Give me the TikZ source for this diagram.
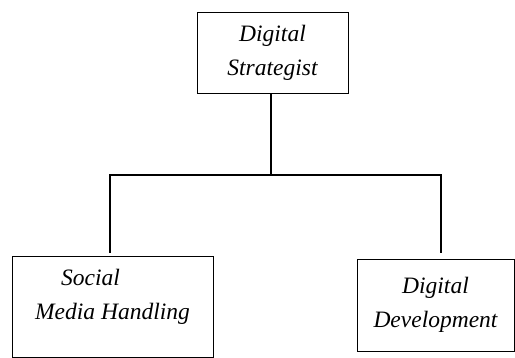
\documentclass[tikz,border=0pt]{standalone}
\usepackage{fontspec}
\setmainfont{Liberation Serif}
\usetikzlibrary{positioning}

\begin{document}
\begin{tikzpicture}[x = 1pt, y = -1pt,
    box/.style = {draw, line width = .8pt, inner sep = 0pt},
    lbl/.style = {font = \fontsize{23.5}{34}\selectfont\itshape, align = center, inner sep = 0pt},
    conn/.style = {line width = 1.7pt}]
    \useasboundingbox (0, 0) rectangle (515, 358);

    % top box
    \node [box, lbl, minimum width = 151pt, minimum height = 81pt] (strat) at (272.5, 52.5) {Digital\\Strategist};

    % bottom boxes
    \node [box, minimum width = 201pt, minimum height = 101pt] (social) at (112.5, 306.5) {};
    \node [lbl, anchor = base] (socialtxt) at (112.5, 320) {Social\hspace*{44pt}\\Media Handling};

    \node [box, lbl, minimum width = 157pt, minimum height = 92pt] (dev) at (435.5, 305) {Digital\\Development};

    % connectors
    \coordinate (hub) at (271, 175);
    \coordinate (socialtop) at (110, 253);
    \coordinate (devtop) at (441, 253);
    \draw [conn] (strat.south -| hub) -- (hub);
    \draw [conn] (socialtop) |- (hub) -| (devtop);

\end{tikzpicture}
\end{document}
